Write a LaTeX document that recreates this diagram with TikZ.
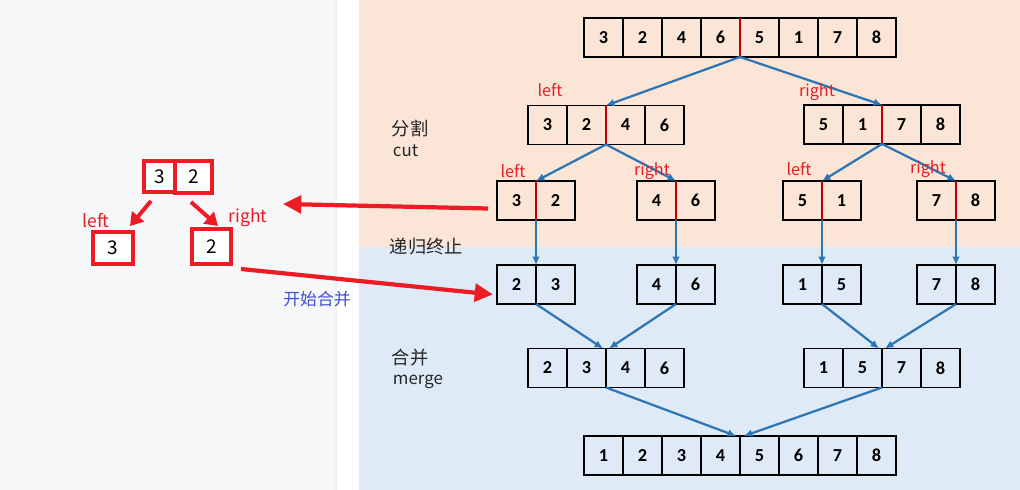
\documentclass[tikz,border=0pt]{standalone}
\usepackage{fontspec}
\setmainfont{Carlito}
\newfontfamily\cjk{Noto Sans CJK SC}
\usetikzlibrary{arrows.meta,calc}
\definecolor{peach}{HTML}{FBE5D6}
\definecolor{pale}{HTML}{DEEAF6}
\definecolor{paper}{HTML}{F6F7F9}
\definecolor{flow}{HTML}{2E75B6}
\definecolor{mark}{HTML}{ED1C24}
\definecolor{split}{HTML}{C00000}
\definecolor{note}{HTML}{4050D0}

\begin{document}
\begin{tikzpicture}[x=0.025cm,y=-0.025cm,
  cell/.style={draw,line width=1.4pt,minimum width=0.975cm,minimum height=0.975cm,inner sep=0pt,outer sep=0pt,font=\fontsize{13}{15}\selectfont\bfseries},
  redcell/.style={draw=mark,fill=white,line width=2.6pt,inner sep=0pt,outer sep=0pt,font=\cjk\fontsize{13.5}{15}\selectfont},
  divider/.style={draw=split,line width=1.3pt},
  flowarrow/.style={draw=flow,line width=1.6pt,-{Latex[length=6pt,width=5.5pt]}},
  redarrow/.style={draw=mark,line width=2.8pt,-{Triangle[length=9pt,width=11pt]}},
  bigarrow/.style={draw=mark,line width=3pt,-{Triangle[length=13pt,width=12.5pt]}},
  lab/.style={text=mark,font=\cjk\fontsize{11.5}{13}\selectfont,anchor=base},
  side/.style={text=black!85,font=\cjk\fontsize{13}{15}\selectfont,anchor=base west},
  sidelat/.style={side,font=\cjk\fontsize{12}{14}\selectfont}]
\useasboundingbox (0,0) rectangle (1020,490);
% backgrounds
\fill[paper] (0,0) rectangle (336,490);
\fill[white] (336,0) rectangle (359,490);
\draw[black!6,line width=1pt] (336,0) -- (336,490);
\fill[peach] (359,0) rectangle (1020,247);
\fill[pale] (359,247) rectangle (1020,490);

% arrays
\foreach \v [count=\i] in {3,2,4,6,5,1,7,8} \node[cell] (t\i) at ({584+39*(\i-0.5)},37.5) {\v};
\foreach \v [count=\i] in {3,2,4,6} \node[cell] (a\i) at ({528+39*(\i-0.5)},125) {\v};
\foreach \v [count=\i] in {5,1,7,8} \node[cell] (b\i) at ({804+39*(\i-0.5)},124.5) {\v};
\foreach \v [count=\i] in {3,2} \node[cell] (c\i) at ({497+39*(\i-0.5)},200.5) {\v};
\foreach \v [count=\i] in {4,6} \node[cell] (d\i) at ({637+39*(\i-0.5)},200.5) {\v};
\foreach \v [count=\i] in {5,1} \node[cell] (e\i) at ({783+39*(\i-0.5)},200.5) {\v};
\foreach \v [count=\i] in {7,8} \node[cell] (f\i) at ({917+39*(\i-0.5)},200.5) {\v};
\foreach \v [count=\i] in {2,3} \node[cell] (g\i) at ({497+39*(\i-0.5)},284.5) {\v};
\foreach \v [count=\i] in {4,6} \node[cell] (h\i) at ({637+39*(\i-0.5)},284.5) {\v};
\foreach \v [count=\i] in {1,5} \node[cell] (k\i) at ({783+39*(\i-0.5)},284.5) {\v};
\foreach \v [count=\i] in {7,8} \node[cell] (m\i) at ({917+39*(\i-0.5)},284.5) {\v};
\foreach \v [count=\i] in {2,3,4,6} \node[cell] (p\i) at ({528+39*(\i-0.5)},368) {\v};
\foreach \v [count=\i] in {1,5,7,8} \node[cell] (q\i) at ({804+39*(\i-0.5)},368) {\v};
\foreach \v [count=\i] in {1,2,3,4,5,6,7,8} \node[cell] (r\i) at ({584+39*(\i-0.5)},455.5) {\v};

% split marks
\foreach \n in {t4,a2,b2,c1,d1,e1,f1} \draw[divider] (\n.north east) -- (\n.south east);

% cut
\draw[flowarrow] (t4.south east) -- (a2.north east);
\draw[flowarrow] (t4.south east) -- (b2.north east);
\draw[flowarrow] (a2.south east) -- (c1.north east);
\draw[flowarrow] (a2.south east) -- (d1.north east);
\draw[flowarrow] (b2.south east) -- (e1.north east);
\draw[flowarrow] (b2.south east) -- (f1.north east);
\draw[flowarrow] (c1.south east) -- (g1.north east);
\draw[flowarrow] (d1.south east) -- (h1.north east);
\draw[flowarrow] (e1.south east) -- (k1.north east);
\draw[flowarrow] (f1.south east) -- (m1.north east);
% merge
\draw[flowarrow] (g1.south east) -- ($(p2.north east)+(-3,0)$);
\draw[flowarrow] (h1.south east) -- ($(p2.north east)+(3,0)$);
\draw[flowarrow] (k1.south east) -- ($(q2.north east)+(-3,0)$);
\draw[flowarrow] (m1.south east) -- ($(q2.north east)+(3,0)$);
\draw[flowarrow] (p2.south east) -- ($(r4.north east)+(-4,0)$);
\draw[flowarrow] (q2.south east) -- ($(r4.north east)+(4,0)$);

\node[lab] (la) at (550,97) {left};
\node[lab] (ra) at (817,97) {right};
\node[lab] (lc) at (513,178) {left};
\node[lab] (rd) at (652,176) {right};
\node[lab] (le) at (799,176) {left};
\node[lab] (rf) at (928,174) {right};

\node[side] (cn1) at (387,136) {分割};
\node[sidelat] (en1) at (388,157) {cut};
\node[side] (cn2) at (385,254) {递归终止};
\node[side] (cn3) at (387,365) {合并};
\node[sidelat] (en3) at (388,385) {merge};

% left sketch
\node[redcell,minimum width=0.775cm,minimum height=0.775cm] (s1) at (159.5,176.5) {3};
\node[redcell,minimum width=0.925cm,minimum height=0.8cm] (s2) at (193.5,177) {2};
\node[redcell,minimum width=1cm,minimum height=0.8cm] (u1) at (113,248) {3};
\node[redcell,minimum width=0.975cm,minimum height=0.875cm] (u2) at (211.5,246.5) {2};
\coordinate (sa) at (151,201); \coordinate (ua) at (130,226);
\coordinate (sb) at (191,202); \coordinate (ub) at (218,226);
\draw[redarrow] (sa) -- (ua);
\draw[redarrow] (sb) -- (ub);
\node[lab,font=\cjk\fontsize{12.5}{14}\selectfont] (lu) at (96,228) {left};
\node[lab,font=\cjk\fontsize{12.5}{14}\selectfont] (ru) at (248,223) {right};

\coordinate (tipA) at (283,204);
\coordinate (tailB) at (241,269);
\draw[bigarrow] ($(c1.west)+(-9,8)$) -- (tipA);
\draw[bigarrow] (tailB) -- ($(g1.west)+(-4,10)$);
\node[text=note,font=\cjk\fontsize{12}{14}\selectfont] (go) at (317,299) {开始合并};
\end{tikzpicture}
\end{document}
